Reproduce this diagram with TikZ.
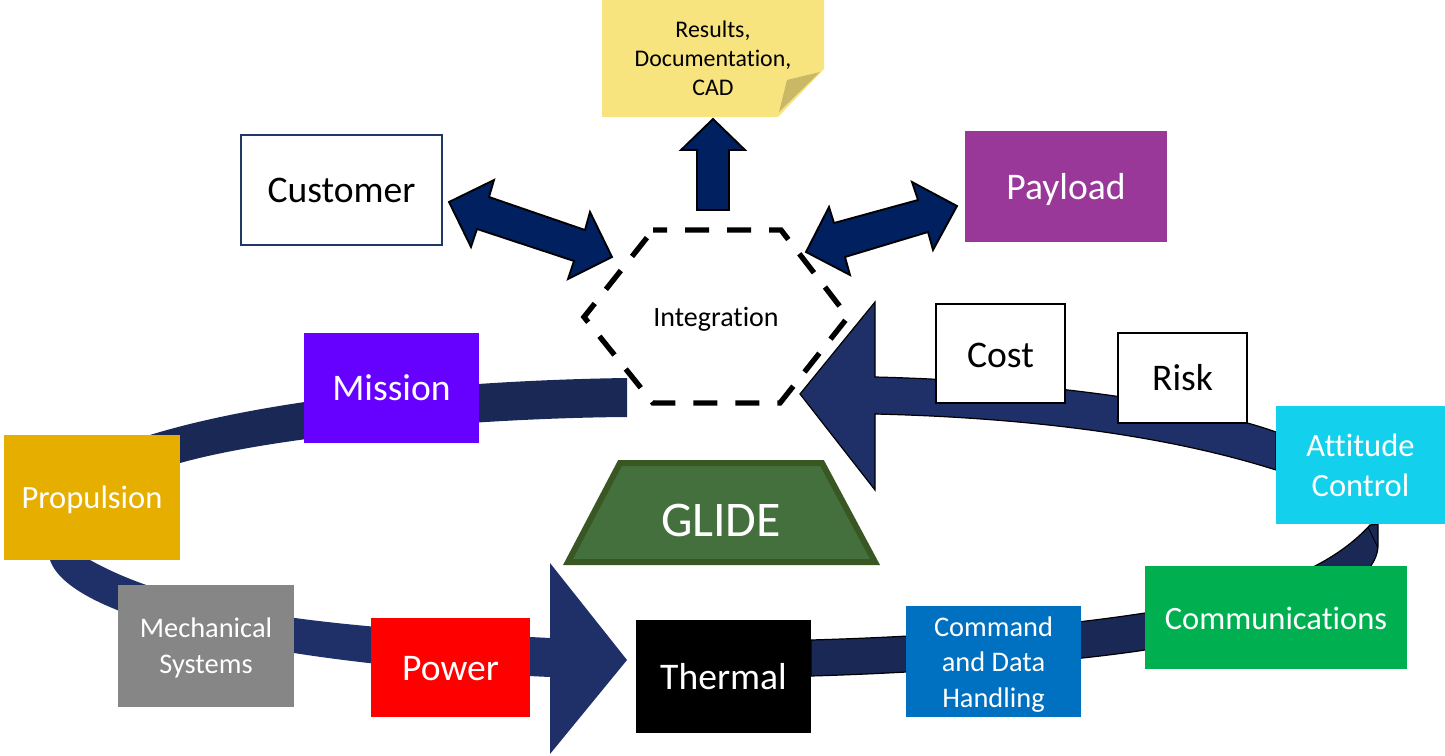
\documentclass[tikz,border=0pt]{standalone}
\usepackage{fontspec}
\setmainfont[Ligatures=NoCommon]{Carlito}
\definecolor{navyA}{HTML}{002060}
\definecolor{ringA}{HTML}{1F3068}
\definecolor{ringB}{HTML}{1A2855}
\definecolor{noteY}{HTML}{F8E47F}
\definecolor{noteD}{HTML}{C9B865}
\newcommand\dropby[2]{\raisebox{-#1}[\height][\depth]{\begin{tabular}{@{}c@{}}#2\end{tabular}}}
\tikzset{
 x=0.75pt,y=-0.75pt,
 boxbase/.style={rectangle,inner sep=0pt,outer sep=0pt,align=center,text=white},
 bigtext/.style={font=\fontsize{28.2}{30}\selectfont},
 midtext/.style={font=\fontsize{24.4}{30}\selectfont},
 smalltext/.style={font=\fontsize{21.3}{26.5}\selectfont},
 whitebox/.style={boxbase,fill=white,text=black,draw=black,line width=1.5pt,bigtext},
 blockarrow/.style={fill=navyA,draw=black,line width=1.4pt,line join=miter},
 ringedge/.style={draw=black,line width=0.9pt}
}
\begin{document}
\begin{tikzpicture}
\useasboundingbox (0,0) rectangle (1445,756);
\fill[white] (0,0) rectangle (1445,756);
% ring
\fill[ringB] (627,378) .. controls (480,380) and (280,395) .. (150,435) -- (180,463) .. controls (280,435) and (480,418) .. (627,417) -- cycle;
\fill[ringA] (627,660) -- (550,563) -- (550,638) .. controls (350,628) and (190,616) .. (90,560) -- (50,560) .. controls (70,620) and (280,665) .. (550,677) -- (550,754) -- cycle;
\fill[ringB,ringedge] (811,640) .. controls (950,636) and (1060,626) .. (1145,613) .. controls (1230,600) and (1320,580) .. (1370,525) -- (1378,524) -- (1378,545) .. controls (1378,585) and (1300,625) .. (1145,650) .. controls (1080,660) and (950,672) .. (811,676) -- cycle;
\draw[black,line width=0.7pt] (1368,527) -- (1378,548);
\fill[ringA,ringedge] (800,394) -- (875,302) -- (875,377) .. controls (1000,380) and (1170,395) .. (1276,432) -- (1276,470) .. controls (1150,430) and (1000,417) .. (875,414) -- (875,490) -- cycle;
% note
\fill[noteY] (602,0) -- (824,0) -- (824,69) -- (778,117) -- (602,117) -- cycle;
\fill[noteD] (787,80) -- (820,72) -- (779,112) -- cycle;
\node[boxbase,text=black,font=\fontsize{17.9}{21.7}\selectfont] (note) at (713,58.5) {Results,\\Documentation,\\CAD};
% block arrows
\path[blockarrow] (713,119) -- (745,150) -- (729,150) -- (729,210) -- (697,210) -- (697,150) -- (681,150) -- cycle;
\path[blockarrow] (449,202) -- (494,180) -- (489,197) -- (585,230) -- (590,212) -- (612,257) -- (568,279) -- (574,261) -- (477,229) -- (471,247) -- cycle;
\path[blockarrow] (806,252) -- (829,207) -- (834,223) -- (918,200) -- (912,182) -- (957,206) -- (933,250) -- (928,232) -- (845,257) -- (850,275) -- cycle;
% hexagon
\draw[black,line width=4pt,dash pattern=on 18pt off 13.5pt,dash phase=7.5pt]
 (653,230) -- (781,230) -- (848,317) -- (780,403) -- (653,403) -- (584,317) -- cycle;
\node[boxbase,text=black,font=\fontsize{21}{25}\selectfont] (integ) at (716,319.5) {Integration};
% GLIDE
\path[fill={rgb,255:red,68;green,112;blue,61},draw={rgb,255:red,56;green,87;blue,35},line width=4.5pt] (620,463) -- (822,463) -- (875,562) -- (568,562) -- cycle;
\node[boxbase,font=\fontsize{37.4}{40}\selectfont] (glide) at (721,520) {GLIDE};
% boxes
\node[whitebox,draw={rgb,255:red,31;green,56;blue,100},minimum width=151pt,minimum height=82.5pt] (customer) at (341.5,190) {\dropby{3.25pt}{Customer}};
\node[boxbase,bigtext,fill={rgb,255:red,153;green,56;blue,153},minimum width=151.5pt,minimum height=83pt] (payload) at (1066,186.5) {\dropby{3.9pt}{Payload}};
\node[whitebox,minimum width=96.75pt,minimum height=74.25pt] (cost) at (1000.5,353.5) {\dropby{4.2pt}{Cost}};
\node[whitebox,minimum width=96.75pt,minimum height=67.5pt] (risk) at (1182.5,378) {\dropby{3.4pt}{Risk}};
\node[boxbase,bigtext,fill={rgb,255:red,102;green,0;blue,255},minimum width=131.25pt,minimum height=82.5pt] (mission) at (391.5,388) {\dropby{3pt}{Mission}};
\node[boxbase,midtext,fill={rgb,255:red,230;green,175;blue,0},minimum width=132pt,minimum height=93.75pt] (propulsion) at (92,497.5) {\dropby{2.4pt}{Propulsion}};
\node[boxbase,smalltext,fill={rgb,255:red,134;green,134;blue,134},minimum width=132pt,minimum height=91.5pt] (mech) at (206,646) {\dropby{1.7pt}{Mechanical\\Systems}};
\node[boxbase,bigtext,fill=red,minimum width=119.25pt,minimum height=74.25pt] (power) at (450.5,667.5) {\dropby{4.1pt}{Power}};
\node[boxbase,bigtext,fill=black,minimum width=131.25pt,minimum height=84.75pt] (thermal) at (723.5,676.5) {Thermal};
\node[boxbase,smalltext,fill={rgb,255:red,0;green,112;blue,192},minimum width=131.25pt,minimum height=83.25pt] (cdh) at (993.5,661.5) {\dropby{2.5pt}{Command\\and Data\\Handling}};
\node[boxbase,midtext,fill={rgb,255:red,0;green,176;blue,80},minimum width=196.5pt,minimum height=77.25pt] (comm) at (1276,617.5) {\dropby{3pt}{Communications}};
\node[boxbase,midtext,fill={rgb,255:red,19;green,209;blue,236},minimum width=126.75pt,minimum height=88.5pt] (attitude) at (1360.5,465) {Attitude\\Control};
\end{tikzpicture}
\end{document}
